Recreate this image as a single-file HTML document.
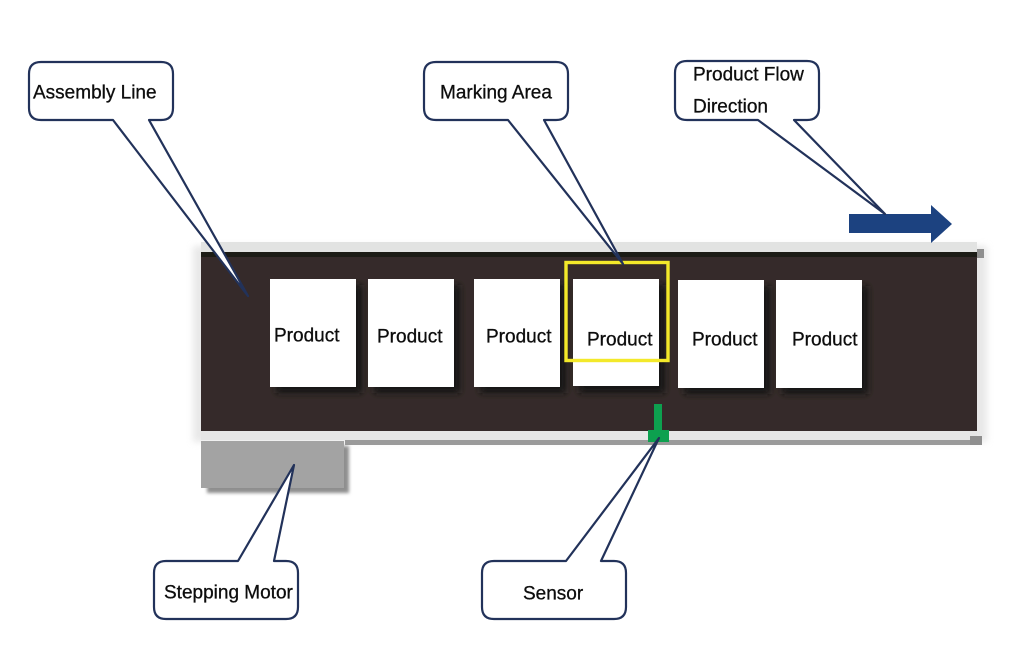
<!DOCTYPE html>
<html><head><meta charset="utf-8">
<style>html,body{margin:0;padding:0;background:#fff}svg{display:block}text{font-family:"Liberation Sans",sans-serif;font-size:19px;fill:#0d0d0d;stroke:#0d0d0d;stroke-width:.3px}</style>
</head><body>
<svg width="1010" height="656" viewBox="0 0 1010 656" xmlns="http://www.w3.org/2000/svg">
<defs>
<filter id="b" x="-15%" y="-15%" width="130%" height="130%"><feGaussianBlur stdDeviation="3.500"/></filter>
<filter id="b2" x="-10%" y="-10%" width="120%" height="120%"><feGaussianBlur stdDeviation="1.500"/></filter>
<filter id="s" x="-2%" y="-2%" width="104%" height="104%"><feGaussianBlur stdDeviation=".3"/></filter>
</defs>
<rect width="1010" height="656" fill="#fff"/>
<rect x="193" y="246" width="794" height="196" fill="#d6d6d6" filter="url(#b)" opacity=".55"/>
<g filter="url(#s)">
<!-- rails -->
<rect x="977" y="249" width="7" height="9" fill="#8f8f8f"/>
<rect x="345" y="437" width="637" height="8" fill="#9a9a9a"/>
<rect x="201" y="242" width="776" height="10" fill="#e2e3e2"/>
<rect x="201" y="430" width="776" height="10" fill="#e6e6e6"/>
<rect x="970" y="436" width="12" height="9" fill="#8f8f8f"/>
<!-- belt -->
<rect x="201" y="252" width="776" height="179" fill="#352c2a"/>
<rect x="201" y="252" width="776" height="5" fill="#1f1a18"/>
<!-- motor -->
<rect x="207" y="446" width="142" height="47" fill="#8e8e8e" filter="url(#b2)"/>
<rect x="201" y="441" width="143" height="47" fill="#a3a3a3"/>
<!-- shadows -->
<g fill="#181412" filter="url(#b)">
<rect x="276" y="285" width="86" height="108"/><rect x="374" y="285" width="86" height="108"/>
<rect x="480" y="285" width="86" height="108"/><rect x="579" y="285" width="86" height="108"/>
<rect x="684" y="286" width="86" height="108"/><rect x="782" y="286" width="86" height="108"/>
</g>
<!-- products -->
<g fill="#fff">
<rect x="270" y="279" width="86" height="108"/><rect x="368" y="279" width="86" height="108"/>
<rect x="474" y="279" width="86" height="108"/><rect x="573" y="279" width="86" height="107"/>
<rect x="678" y="280" width="86" height="108"/><rect x="776" y="280" width="86" height="108"/>
</g>
<!-- yellow marking -->
<rect x="566" y="262.500" width="102" height="98" fill="none" stroke="#f3e92a" stroke-width="3.400"/>
<!-- sensor -->
<rect x="654" y="404" width="8" height="26" fill="#0ea04f"/>
<rect x="648" y="430" width="21" height="12" fill="#0ea04f"/>
<!-- flow arrow -->
<polygon points="849,214 931,214 931,205 952,224 931,243 931,233 849,233" fill="#1f4380"/>
</g>
<!-- callouts -->
<g fill="#fff" stroke="#22325a" stroke-width="2.200" stroke-linejoin="round">
<path d="M41,62 H161 Q173,62 173,74 V108 Q173,120 161,120 H149 L248,296 L113,120 H41 Q29,120 29,108 V74 Q29,62 41,62 Z"/>
<path d="M436,62 H556 Q568,62 568,74 V108 Q568,120 556,120 H544 L623,264 L508,120 H436 Q424,120 424,108 V74 Q424,62 436,62 Z"/>
<path d="M687,61 H807 Q819,61 819,73 V108 Q819,120 807,120 H794 L885,214 L758,120 H687 Q675,120 675,108 V73 Q675,61 687,61 Z"/>
<path d="M166,561 H238 L294,465 L274,561 H286 Q298,561 298,573 V607 Q298,619 286,619 H166 Q154,619 154,607 V573 Q154,561 166,561 Z"/>
<path d="M494,561 H566 L659,438 L601,561 H614 Q626,561 626,573 V607 Q626,619 614,619 H494 Q482,619 482,607 V573 Q482,561 494,561 Z"/>
</g>
<text x="274" y="341.500">Product</text>
<text x="377" y="342.500">Product</text>
<text x="486" y="342.500">Product</text>
<text x="587" y="345.500">Product</text>
<text x="692" y="345.500">Product</text>
<text x="792" y="345.500">Product</text>
<text x="33" y="98.500">Assembly Line</text>
<text x="440" y="98.500">Marking Area</text>
<text x="693" y="80.500">Product Flow</text>
<text x="693" y="112.500">Direction</text>
<text x="164" y="598.500">Stepping Motor</text>
<text x="523" y="599.500">Sensor</text>
</svg>
</body></html>
